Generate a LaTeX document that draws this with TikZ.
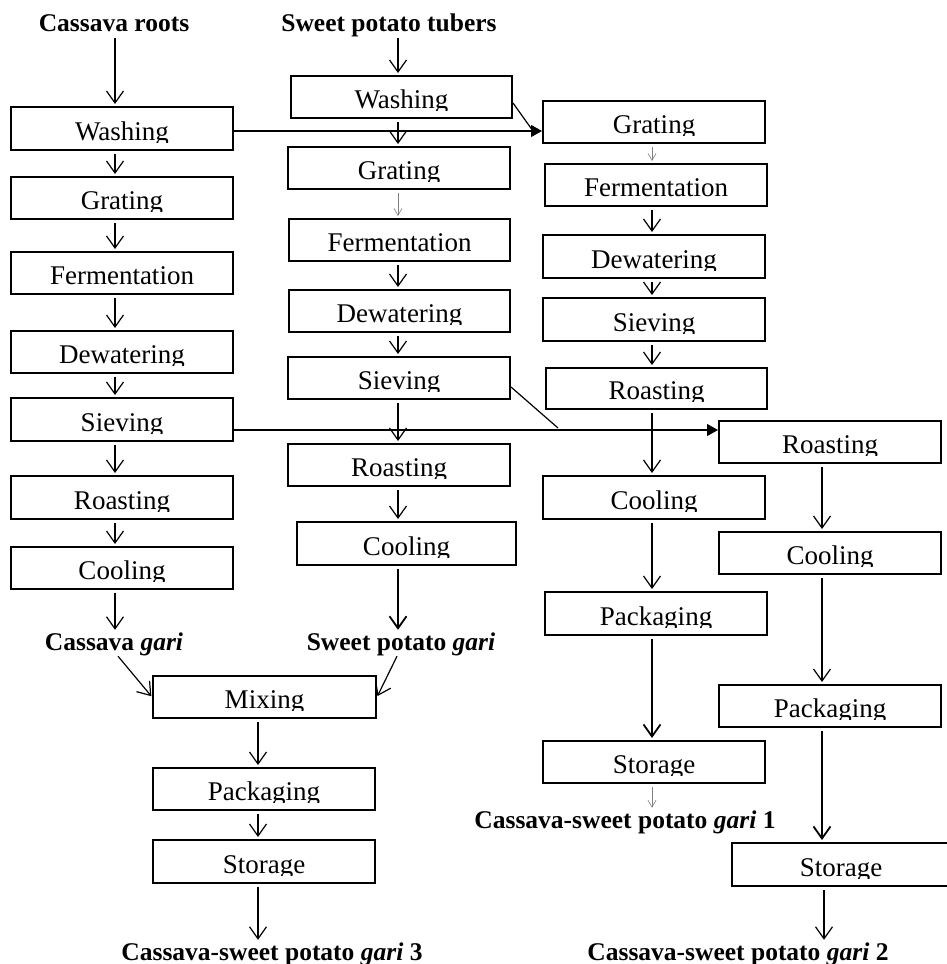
\documentclass[tikz,border=0pt]{standalone}
\usepackage{fontspec}
\setmainfont{Liberation Serif}
\usepackage{trimclip}
\usetikzlibrary{arrows.meta}
\newcommand\cliptxt[1]{\clipbox{0pt 3.5pt 0pt 0pt}{\vphantom{g}#1}}
\newcommand\procbox[6]{%
  \pgfmathsetmacro\pbw{#4-#2}%
  \pgfmathsetmacro\pbh{#5-#3-10}%
  \node[proc, minimum width=\pbw pt, text height=\pbh pt] (#1) at ({(#2+#4)/2},{(#3+#5)/2}) {\cliptxt{#6}};}
\tikzset{
  proc/.style={draw, line width=2pt, inner sep=0pt, text depth=10pt, minimum height=0pt,
    font=\fontsize{27pt}{30pt}\selectfont},
  lab/.style={inner sep=0pt, text height=18pt, text depth=6pt, anchor=base,
    font=\fontsize{25.5pt}{28pt}\selectfont\bfseries},
  arr/.style={line width=1.2pt, -{Straight Barb[length=12pt,width=17pt]}, shorten <=3pt, shorten >=2pt},
  thinarr/.style={line width=0.6pt, draw=gray, -{Straight Barb[length=7pt,width=8pt]}, shorten <=3pt, shorten >=2pt},
  thickarr/.style={arr, line width=1.8pt},
  farr/.style={line width=1.2pt, -{Triangle[length=11pt,width=12pt]}},
  plainline/.style={line width=1.2pt}
}
\begin{document}
\begin{tikzpicture}[x=1pt,y=-1pt]
\useasboundingbox (0,0) rectangle (946,964);
% column x positions of arrows
\coordinate (x1) at (115,0);
\coordinate (x2) at (398,0);
\coordinate (x3) at (652,0);
\coordinate (x4) at (822,0);
\coordinate (x5) at (824,0);
\coordinate (xm) at (258,0);
\coordinate (h1) at (0,131);
\coordinate (h2) at (0,430);
\coordinate (m1) at (533,131);
\coordinate (m2) at (558,428);

% titles and labels
\node[lab] (t1) at (114,31) {Cassava roots};
\node[lab] (t2) at (389,31) {Sweet potato tubers};
\node[lab] (L1) at (114,650) {Cassava \textit{gari}};
\node[lab] (L2) at (401,650) {Sweet potato \textit{gari}};
\node[lab] (L4) at (625,828) {Cassava-sweet potato \textit{gari} 1};
\node[lab] (L3) at (272,960) {Cassava-sweet potato \textit{gari} 3};
\node[lab] (L5) at (738,960) {Cassava-sweet potato \textit{gari} 2};

% column 1
\procbox{c1w}{11}{107}{233}{150}{Washing}
\procbox{c1g}{11}{177}{233}{219}{Grating}
\procbox{c1f}{11}{252}{233}{294}{Fermentation}
\procbox{c1d}{11}{331}{233}{373}{Dewatering}
\procbox{c1s}{11}{398}{233}{441}{Sieving}
\procbox{c1r}{11}{476}{233}{519}{Roasting}
\procbox{c1c}{11}{547}{233}{589}{Cooling}
% column 2
\procbox{c2w}{291}{76}{512}{118}{Washing}
\procbox{c2g}{288}{147}{510}{189}{Grating}
\procbox{c2f}{289}{219}{510}{261}{Fermentation}
\procbox{c2d}{289}{290}{510}{332}{Dewatering}
\procbox{c2s}{288}{357}{510}{399}{Sieving}
\procbox{c2r}{288}{444}{510}{486}{Roasting}
\procbox{c2c}{297}{522}{516}{565}{Cooling}
% mixing branch
\procbox{mix}{153}{676}{376}{718}{Mixing}
\procbox{pk3}{153}{768}{375}{810}{Packaging}
\procbox{st3}{153}{840}{375}{883}{Storage}
% column 3
\procbox{c3g}{543}{101}{765}{143}{Grating}
\procbox{c3f}{545}{164}{767}{206}{Fermentation}
\procbox{c3d}{543}{235}{765}{278}{Dewatering}
\procbox{c3s}{543}{298}{765}{341}{Sieving}
\procbox{c3r}{546}{368}{767}{409}{Roasting}
\procbox{c3c}{543}{476}{765}{519}{Cooling}
\procbox{c3p}{545}{592}{767}{635}{Packaging}
\procbox{c3st}{543}{741}{765}{783}{Storage}
% column 4
\procbox{c4r}{719}{421}{941}{463}{Roasting}
\procbox{c4c}{719}{532}{941}{574}{Cooling}
\procbox{c4p}{719}{685}{941}{727}{Packaging}
\procbox{c4st}{732}{843}{950}{886}{Storage}

% column 1 arrows
\draw[arr, shorten <=1pt] (t1.south -| x1) -- (c1w.north -| x1);
\draw[arr] (c1w.south -| x1) -- (c1g.north -| x1);
\draw[arr] (c1g.south -| x1) -- (c1f.north -| x1);
\draw[arr] (c1f.south -| x1) -- (c1d.north -| x1);
\draw[arr] (c1d.south -| x1) -- (c1s.north -| x1);
\draw[arr] (c1s.south -| x1) -- (c1r.north -| x1);
\draw[arr] (c1r.south -| x1) -- (c1c.north -| x1);
\draw[arr] (c1c.south -| x1) -- (L1.north -| x1);
% column 2 arrows
\draw[arr, shorten <=1pt] (t2.south -| x2) -- (c2w.north -| x2);
\draw[arr] (c2w.south -| x2) -- (c2g.north -| x2);
\draw[thinarr] (c2g.south -| x2) -- (c2f.north -| x2);
\draw[arr] (c2f.south -| x2) -- (c2d.north -| x2);
\draw[arr] (c2d.south -| x2) -- (c2s.north -| x2);
\draw[arr] (c2s.south -| x2) -- (c2r.north -| x2);
\draw[arr] (c2r.south -| x2) -- (c2c.north -| x2);
\draw[thickarr] (c2c.south -| x2) -- (L2.north -| x2);
% mixing
\draw[arr, shorten <=0pt, shorten >=1pt] ([xshift=4pt]L1.south) -- (mix.west);
\draw[arr, shorten <=0pt, shorten >=1pt] ([xshift=-4pt]L2.south) -- (mix.east);
\draw[arr] (mix.south -| xm) -- (pk3.north -| xm);
\draw[arr] (pk3.south -| xm) -- (st3.north -| xm);
\draw[arr] (st3.south -| xm) -- (L3.north -| xm);
% column 3 arrows
\draw[thinarr] (c3g.south -| x3) -- (c3f.north -| x3);
\draw[arr] (c3f.south -| x3) -- (c3d.north -| x3);
\draw[arr] (c3d.south -| x3) -- (c3s.north -| x3);
\draw[arr] (c3s.south -| x3) -- (c3r.north -| x3);
\draw[arr] (c3r.south -| x3) -- (c3c.north -| x3);
\draw[arr] (c3c.south -| x3) -- (c3p.north -| x3);
\draw[thickarr] (c3p.south -| x3) -- (c3st.north -| x3);
\draw[thinarr] (c3st.south -| x3) -- (L4.north -| x3);
% column 4 arrows
\draw[arr] (c4r.south -| x4) -- (c4c.north -| x4);
\draw[arr] (c4c.south -| x4) -- (c4p.north -| x4);
\draw[thickarr] (c4p.south -| x4) -- (c4st.north -| x4);
\draw[arr] (c4st.south -| x5) -- (L5.north -| x5);

% cross connections
\draw[farr] (c1w.east |- h1) -- (c3g.west |- h1);
\draw[plainline] ([yshift=-6pt]c2w.east) -- (m1);
\draw[farr] (c1s.east |- h2) -- (c4r.west |- h2);
\draw[plainline] ([yshift=-9pt]c2s.east) -- (m2);
\end{tikzpicture}
\end{document}
